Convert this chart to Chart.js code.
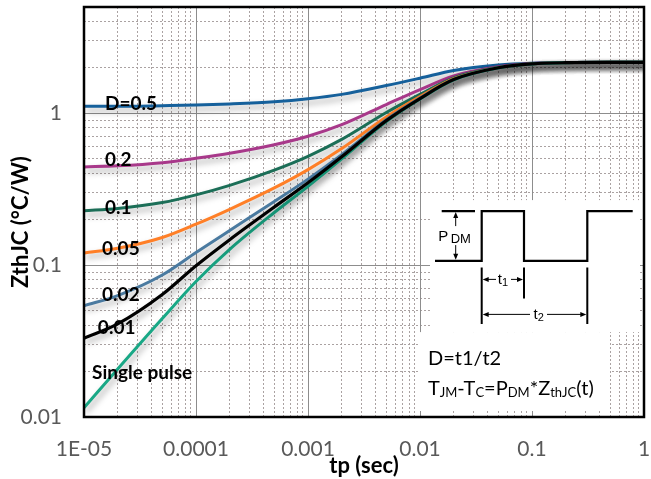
<!DOCTYPE html>
<html>
<head>
<meta charset="utf-8">
<script src="https://cdn.jsdelivr.net/npm/chart.js@4.4.1/dist/chart.umd.min.js"></script>
<style>
  html, body { margin: 0; padding: 0; background: #fff; }
</style>
</head>
<body>
<canvas id="zthChart" width="651" height="479"></canvas>
<script>
// Transient thermal impedance ZthJC vs pulse width, one curve per duty cycle

const tp = [1e-5, 2e-5, 5e-5, 1e-4, 2e-4, 5e-4, 1e-3, 2e-3, 5e-3, 0.01, 0.02, 0.05, 0.1, 0.2, 0.5, 1];

const zD50 = [1.11, 1.11, 1.12, 1.13, 1.15, 1.19, 1.245, 1.33, 1.52, 1.70, 1.91, 2.075, 2.135, 2.155, 2.16, 2.16];
const zD20 = [0.443, 0.45, 0.472, 0.505, 0.545, 0.62, 0.705, 0.84, 1.14, 1.43, 1.76, 2.02, 2.12, 2.15, 2.16, 2.16];
const zD10 = [0.228, 0.236, 0.258, 0.29, 0.335, 0.422, 0.52, 0.672, 1.01, 1.33, 1.71, 2.0, 2.11, 2.15, 2.16, 2.16];
const zD05 = [0.12, 0.129, 0.152, 0.186, 0.233, 0.322, 0.425, 0.585, 0.945, 1.285, 1.685, 1.995, 2.11, 2.15, 2.16, 2.16];
const zD02 = [0.054, 0.063, 0.086, 0.121, 0.169, 0.262, 0.368, 0.533, 0.905, 1.258, 1.67, 1.99, 2.11, 2.15, 2.16, 2.16];
const zD01 = [0.033, 0.041, 0.064, 0.099, 0.147, 0.241, 0.348, 0.516, 0.893, 1.249, 1.665, 1.99, 2.11, 2.15, 2.16, 2.16];
const zSingle = [0.0115, 0.0207, 0.0445, 0.078, 0.127, 0.222, 0.33, 0.50, 0.88, 1.24, 1.66, 1.99, 2.11, 2.15, 2.16, 2.16];

const seriesNames = ['D=0.5', '0.2', '0.1', '0.05', '0.02', '0.01', 'Single pulse'];

const xTickValues = [1e-5, 1e-4, 1e-3, 1e-2, 1e-1, 1];
const xTickLabels = ['1E-05', '0.0001', '0.001', '0.01', '0.1', '1'];
const yTickValues = [0.01, 0.1, 1];
const yTickLabels = ['0.01', '0.1', '1'];

const yTitle = 'ZthJC (°C/W)';

// where each curve name sits (tp, ZthJC at text centre line)
const curveLabels = [
    { text: 'D=0.5', tp: 1.54e-5, z: 1.155 },
    { text: '0.2', tp: 1.54e-5, z: 0.491 },
    { text: '0.1', tp: 1.54e-5, z: 0.239 },
    { text: '0.05', tp: 1.45e-5, z: 0.128 },
    { text: '0.02', tp: 1.45e-5, z: 0.0635 },
    { text: '0.01', tp: 1.33e-5, z: 0.0388 },
    { text: 'Single pulse', tp: 1.18e-5, z: 0.0195 }
];

const curveColors = ['#15609b', '#a8388a', '#1b6e57', '#ff7f27', '#4a7aa0', '#000000', '#19a886'];
const curveOrder = [6, 5, 4, 3, 2, 0, 1];

const isDecade = v => Math.abs(Math.log10(v) - Math.round(Math.log10(v))) < 1e-6;

// log scale adds 1.5 steps; keep only 1..9 per decade
function keepWholeSteps(scale) {
    scale.ticks = scale.ticks.filter(t => {
        const e = Math.floor(Math.log10(t.value) + 1e-9);
        const m = t.value / Math.pow(10, e);
        return Math.abs(m - Math.round(m)) < 1e-6;
    });
}

// fixed axis box, and no extra room reserved for edge labels
function fixBox(size) {
    return function(s) {
        if (s.isHorizontal()) s.height = size; else s.width = size;
        s.paddingLeft = 0;
        s.paddingRight = 0;
        s.paddingTop = 0;
        s.paddingBottom = 0;
    };
}

function labelFor(values, labels) {
    return function(value) {
        const i = values.findIndex(v => Math.abs(v - value) / v < 1e-6);
        return i >= 0 ? labels[i] : '';
    };
}

const allSeries = [zD50, zD20, zD10, zD05, zD02, zD01, zSingle];

const datasets = allSeries.map((vals, i) => ({
    label: seriesNames[i],
    data: tp.map((t, k) => ({ x: t, y: vals[k] })),
    borderColor: curveColors[i],
    backgroundColor: curveColors[i],
    borderWidth: i === 5 ? 3.2 : 3,
    pointRadius: 0,
    cubicInterpolationMode: 'monotone',
    fill: false,
    order: curveOrder[i]
}));

function drawArrowHead(ctx, x, y, dir) {
    // dir: 'up' | 'down' | 'left' | 'right'
    ctx.beginPath();
    if (dir === 'up') { ctx.moveTo(x, y); ctx.lineTo(x - 2.5, y + 6); ctx.lineTo(x + 2.5, y + 6); }
    if (dir === 'down') { ctx.moveTo(x, y); ctx.lineTo(x - 2.5, y - 6); ctx.lineTo(x + 2.5, y - 6); }
    if (dir === 'left') { ctx.moveTo(x, y); ctx.lineTo(x + 6, y - 2.5); ctx.lineTo(x + 6, y + 2.5); }
    if (dir === 'right') { ctx.moveTo(x, y); ctx.lineTo(x - 6, y - 2.5); ctx.lineTo(x - 6, y + 2.5); }
    ctx.closePath();
    ctx.fill();
}

function drawRuns(ctx, x, y, runs, size, subSize) {
    runs.forEach(([txt, sub]) => {
        ctx.font = (sub ? subSize : size) + 'px Lato';
        ctx.fillText(txt, x, sub ? y + 5 : y);
        x += ctx.measureText(txt).width;
    });
}

const insetPlugin = {
    id: 'inset',
    beforeDatasetsDraw(chart) {
        const { ctx, chartArea: a, scales: { x, y } } = chart;
        const ox = x.getPixelForValue(0.01);
        const oy = y.getPixelForValue(0.1);
        // blank panels under the pulse sketch and the formula
        ctx.save();
        ctx.fillStyle = '#ffffff';
        ctx.fillRect(ox + 10, oy - 65, a.right - 4 - (ox + 10), 132);
        ctx.fillRect(ox - 1, oy + 67, 191, a.bottom - 6 - (oy + 67));
        ctx.restore();
        // soft drop shadow under the curves
        ctx.save();
        ctx.shadowColor = 'rgba(0,0,0,0.35)';
        ctx.shadowBlur = 6;
        ctx.shadowOffsetX = 2;
        ctx.shadowOffsetY = 4;
    },
    afterDatasetsDraw(chart) {
        const { ctx, scales: { x, y } } = chart;
        ctx.restore();

        // curve names
        ctx.save();
        ctx.fillStyle = '#000';
        ctx.font = 'bold 19px Lato';
        ctx.textAlign = 'left';
        ctx.textBaseline = 'middle';
        curveLabels.forEach(l => {
            ctx.fillText(l.text, x.getPixelForValue(l.tp), y.getPixelForValue(l.z));
        });
        ctx.restore();
    },
    afterDraw(chart) {
        const { ctx, chartArea: a, scales: { x, y } } = chart;
        const ox = x.getPixelForValue(0.01);
        const oy = y.getPixelForValue(0.1);
        const low = oy - 4.3, high = oy - 54;
        const e1 = ox + 61.7, e2 = ox + 104, e3 = ox + 167.3;

        // y axis title, sitting a bit below the plot's mid height
        ctx.save();
        ctx.translate(21, (a.top + a.bottom) / 2 + 10);
        ctx.rotate(-Math.PI / 2);
        ctx.font = 'bold 22px Lato';
        ctx.fillStyle = '#000';
        ctx.textAlign = 'center';
        ctx.textBaseline = 'middle';
        ctx.fillText(yTitle, 0, 0);
        ctx.restore();

        ctx.save();
        ctx.strokeStyle = '#000';
        ctx.fillStyle = '#000';

        // pulse train
        ctx.lineWidth = 2.2;
        ctx.lineJoin = 'miter';
        ctx.beginPath();
        ctx.moveTo(ox + 15, low);
        ctx.lineTo(e1, low); ctx.lineTo(e1, high);
        ctx.lineTo(e2, high); ctx.lineTo(e2, low);
        ctx.lineTo(e3, low); ctx.lineTo(e3, high);
        ctx.lineTo(ox + 212.7, high);
        ctx.stroke();

        // PDM level marker
        ctx.beginPath();
        ctx.moveTo(ox + 21.7, high); ctx.lineTo(ox + 55, high);
        ctx.stroke();
        ctx.lineWidth = 1;
        ctx.beginPath();
        ctx.moveTo(ox + 35.7, high + 5); ctx.lineTo(ox + 35.7, low - 5);
        ctx.stroke();
        drawArrowHead(ctx, ox + 35.7, high + 1, 'up');
        drawArrowHead(ctx, ox + 35.7, low - 1, 'down');
        ctx.fillStyle = '#fff';
        ctx.fillRect(ox + 17, oy - 39, 41, 19);
        ctx.fillStyle = '#000';
        ctx.textBaseline = 'alphabetic';
        ctx.font = '15px "Liberation Sans"';
        ctx.fillText('P', ox + 18.3, oy - 24);
        ctx.font = '13px "Liberation Sans"';
        ctx.fillText('DM', ox + 30.7, oy - 22.3);

        // t1 / t2 dimension lines
        ctx.lineWidth = 2;
        ctx.beginPath();
        ctx.moveTo(e1, oy + 2.3); ctx.lineTo(e1, oy + 59);
        ctx.moveTo(e2, oy + 2.3); ctx.lineTo(e2, oy + 33.3);
        ctx.moveTo(e3, oy + 2.3); ctx.lineTo(e3, oy + 59);
        ctx.stroke();

        ctx.lineWidth = 1;
        const dim = (yy, xa, xb, gapA, gapB, name, cx) => {
            ctx.beginPath();
            ctx.moveTo(xa + 4, yy); ctx.lineTo(gapA, yy);
            ctx.moveTo(gapB, yy); ctx.lineTo(xb - 4, yy);
            ctx.stroke();
            drawArrowHead(ctx, xa + 1, yy, 'left');
            drawArrowHead(ctx, xb - 1, yy, 'right');
            ctx.textBaseline = 'middle';
            ctx.font = '15px "Liberation Sans"';
            const w1 = ctx.measureText('t').width;
            ctx.font = '11px "Liberation Sans"';
            const w2 = ctx.measureText(name).width;
            const sx = cx - (w1 + w2) / 2;
            ctx.font = '15px "Liberation Sans"';
            ctx.fillText('t', sx, yy);
            ctx.font = '11px "Liberation Sans"';
            ctx.fillText(name, sx + w1, yy + 4);
        };
        dim(oy + 14.3, e1, e2, ox + 76, ox + 91, '1', ox + 83);
        dim(oy + 49.3, e1, e3, ox + 110, ox + 127, '2', ox + 118.7);

        // duty cycle and junction temperature relations
        ctx.textAlign = 'left';
        ctx.textBaseline = 'middle';
        ctx.font = '20px Lato';
        ctx.fillText('D=t1/t2', ox + 8, oy + 93.5);
        drawRuns(ctx, ox + 8, oy + 123, [
            ['T', false], ['JM', true], ['-T', false], ['C', true],
            ['=P', false], ['DM', true], ['*Z', false], ['thJC', true], ['(t)', false]
        ], 20, 13);
        ctx.restore();

        // plot frame
        ctx.save();
        ctx.strokeStyle = '#000';
        ctx.lineWidth = 2.5;
        ctx.strokeRect(a.left, a.top, a.right - a.left, a.bottom - a.top);
        ctx.restore();
    }
};

const tickFont = { family: 'Lato', size: 21 };
const titleFont = { family: 'Lato', size: 22, weight: 'bold' };
const minorGrid = '#aaa2a2';
const majorGrid = '#8d8d8d';

new Chart(document.getElementById('zthChart'), {
    type: 'line',
    data: { datasets },
    options: {
        responsive: false,
        animation: false,
        devicePixelRatio: 1,
        layout: { padding: { top: 7, right: 7, left: 0, bottom: 0 } },
        plugins: {
            legend: { display: false },
            tooltip: { enabled: false }
        },
        scales: {
            xMinor: {
                type: 'logarithmic',
                min: 1e-5,
                max: 1,
                position: 'bottom',
                afterBuildTicks: keepWholeSteps,
                afterFit: fixBox(0),
                ticks: { display: false },
                grid: {
                    drawTicks: false,
                    lineWidth: 1,
                    color: c => isDecade(c.tick.value) ? 'rgba(0,0,0,0)' : minorGrid
                },
                border: { display: false, dash: [2, 2] }
            },
            yMinor: {
                type: 'logarithmic',
                min: 0.01,
                max: 5,
                position: 'left',
                afterBuildTicks: keepWholeSteps,
                afterFit: fixBox(0),
                ticks: { display: false },
                grid: {
                    drawTicks: false,
                    lineWidth: 1,
                    color: c => isDecade(c.tick.value) ? 'rgba(0,0,0,0)' : minorGrid
                },
                border: { display: false, dash: [2, 2] }
            },
            x: {
                type: 'logarithmic',
                min: 1e-5,
                max: 1,
                position: 'bottom',
                afterBuildTicks: keepWholeSteps,
                afterFit: fixBox(62),
                ticks: {
                    autoSkip: false,
                    minRotation: 0,
                    maxRotation: 0,
                    padding: 20,
                    color: '#595959',
                    font: tickFont,
                    callback: labelFor(xTickValues, xTickLabels)
                },
                grid: {
                    drawTicks: false,
                    lineWidth: 1,
                    color: c => isDecade(c.tick.value) ? majorGrid : 'rgba(0,0,0,0)'
                },
                border: { display: false },
                title: {
                    display: true,
                    text: 'tp (sec)',
                    color: '#000',
                    font: titleFont,
                    padding: { top: 0, bottom: 0 }
                }
            },
            y: {
                type: 'logarithmic',
                min: 0.01,
                max: 5,
                position: 'left',
                afterBuildTicks: keepWholeSteps,
                afterFit: fixBox(84),
                ticks: {
                    autoSkip: false,
                    padding: 22,
                    color: '#595959',
                    font: tickFont,
                    callback: labelFor(yTickValues, yTickLabels)
                },
                grid: {
                    drawTicks: false,
                    lineWidth: 1,
                    color: c => isDecade(c.tick.value) ? majorGrid : 'rgba(0,0,0,0)'
                },
                border: { display: false }
            }
        }
    },
    plugins: [insetPlugin]
});
</script>
</body>
</html>
